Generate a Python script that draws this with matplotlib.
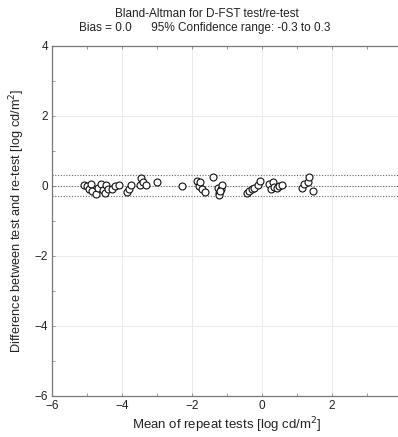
import numpy as np
import matplotlib
matplotlib.use("Agg")
import matplotlib.pyplot as plt

plt.rcParams['font.family'] = ['Liberation Sans', 'DejaVu Sans']

# mean of test and re-test [log cd/m2]
mean_vals = [-5.1, -5.0, -4.95, -4.9, -4.85, -4.75, -4.7, -4.6, -4.55, -4.5,
             -4.45, -4.4, -4.3, -4.2, -4.1,
             -3.85, -3.8, -3.75, -3.5, -3.45, -3.4, -3.32, -3.0,
             -2.28, -1.85, -1.8, -1.77, -1.72, -1.63, -1.4,
             -1.27, -1.24, -1.22, -1.18, -1.15, -1.2,
             -0.42, -0.36, -0.3, -0.22, -0.12, -0.05,
             0.2, 0.25, 0.3, 0.35, 0.42, 0.48, 0.56,
             1.15, 1.2, 1.3, 1.35, 1.45]
# difference test - re-test
diff_vals = [0.03, 0.0, -0.1, 0.05, -0.15, -0.22, -0.05, 0.05, -0.12, -0.2,
             0.02, -0.1, -0.08, 0.0, 0.03,
             -0.18, -0.08, 0.02, 0.02, 0.23, 0.1, 0.02, 0.12,
             0.0, 0.14, 0.0, 0.1, -0.08, -0.17, 0.26,
             -0.05, -0.2, -0.26, -0.1, 0.02, -0.15,
             -0.2, -0.14, -0.1, -0.05, 0.02, 0.15,
             0.05, -0.08, 0.1, -0.02, -0.05, 0.0, 0.02,
             -0.05, 0.05, 0.1, 0.25, -0.15]

bias = 0.0
lower, upper = -0.3, 0.3

fig = plt.figure(figsize=(3.98, 4.37), dpi=100)
# axes runs past the right edge, as in the cropped original
ax = fig.add_axes([52/398, 41/437, 350/398, 350/437])

ax.set_xlim(-6, 4)
ax.set_ylim(-6, 4)
ax.set_xticks([-6, -4, -2, 0, 2])
ax.set_yticks([-6, -4, -2, 0, 2, 4])
ax.set_xticks(np.arange(-6, 5, 1), minor=True)
ax.set_yticks(np.arange(-6, 5, 1), minor=True)
ax.grid(True, which='major', color='#ebebeb', linewidth=0.7)
ax.set_axisbelow(True)

ax.tick_params(which='both', direction='in', length=2.5, width=0.6,
               color='#888888', top=True, labelsize=8.5, pad=3,
               labelcolor='#222222')
for side in ['left', 'top', 'bottom']:
    ax.spines[side].set_color('#777777')
    ax.spines[side].set_linewidth(0.9)
ax.spines['right'].set_visible(False)

for yv in [upper, bias, lower]:
    ax.axhline(yv, color='#666666', linestyle=(0, (1, 1.5)), linewidth=0.8)

ax.plot(mean_vals, diff_vals, 'o', markerfacecolor='white',
        markeredgecolor='#111111', markersize=5.0, markeredgewidth=0.8)

ax.set_xlabel('Mean of repeat tests [log cd/m$^2$]', fontsize=9.5,
              labelpad=2, color='#222222')
ax.set_ylabel('Difference between test and re-test [log cd/m$^2$]',
              fontsize=9.2, labelpad=5, color='#222222')

fig.text(207/398, 1 - 14/437, 'Bland-Altman for D-FST test/re-test',
         ha='center', va='center', fontsize=8.5, color='#222222')
fig.text(205/398, 1 - 28/437,
         'Bias = 0.0      95% Confidence range: -0.3 to 0.3',
         ha='center', va='center', fontsize=8.5, color='#222222')

fig.savefig('out.png', dpi=100)
